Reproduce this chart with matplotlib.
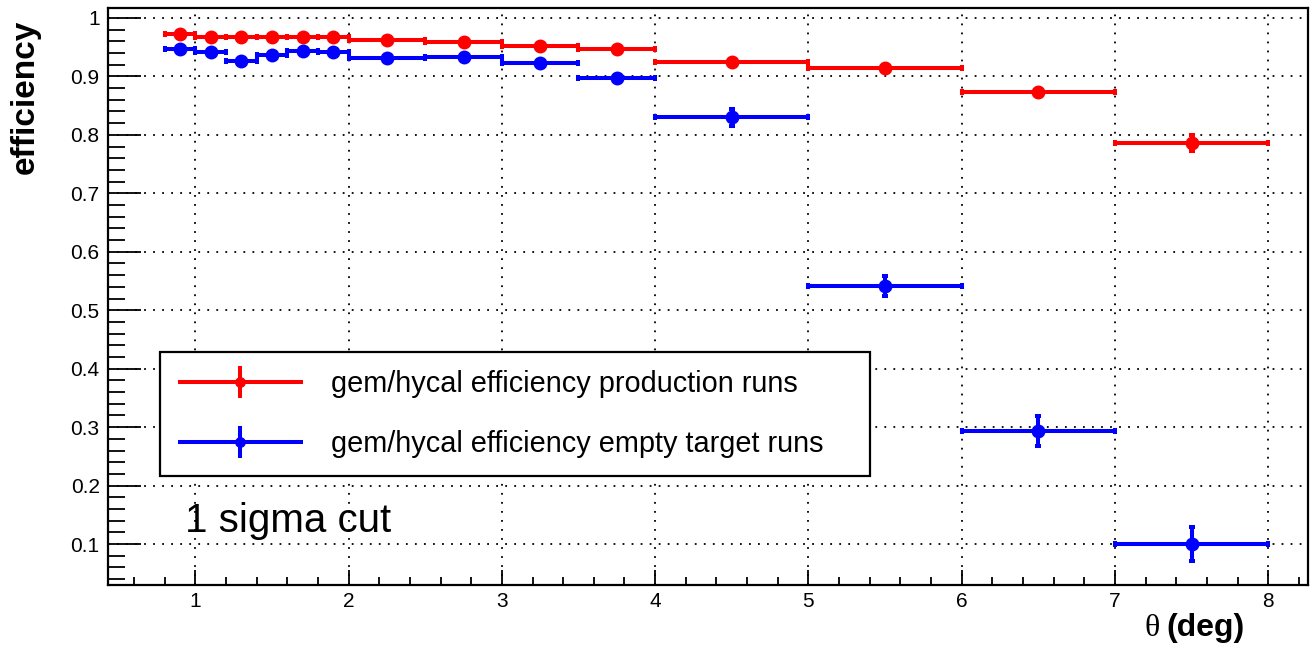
import matplotlib
matplotlib.use("Agg")
import matplotlib.pyplot as plt
import numpy as np
from matplotlib.legend_handler import HandlerErrorbar

plt.rcParams['font.family'] = ['Liberation Sans', 'DejaVu Sans']

# ---- data ----
bin_edges = [0.8, 1.0, 1.2, 1.4, 1.6, 1.8, 2.0, 2.5, 3.0, 3.5, 4.0, 5.0, 6.0, 7.0, 8.0]
prod_eff = [0.973, 0.967, 0.968, 0.968, 0.968, 0.967, 0.963, 0.958, 0.952, 0.947,
            0.924, 0.914, 0.873, 0.786]
prod_err = [0.003, 0.003, 0.003, 0.003, 0.003, 0.003, 0.003, 0.003, 0.003, 0.003,
            0.004, 0.004, 0.006, 0.013]
empty_eff = [0.947, 0.941, 0.927, 0.937, 0.943, 0.941, 0.932, 0.933, 0.923, 0.898,
             0.830, 0.541, 0.293, 0.100]
empty_err = [0.004, 0.004, 0.004, 0.004, 0.004, 0.004, 0.004, 0.004, 0.004, 0.005,
             0.015, 0.017, 0.026, 0.029]
prod_label = "gem/hycal efficiency production runs"
empty_label = "gem/hycal efficiency empty target runs"
x_ticks = [1, 2, 3, 4, 5, 6, 7, 8]
y_ticks = [0.1, 0.2, 0.3, 0.4, 0.5, 0.6, 0.7, 0.8, 0.9, 1.0]
y_tick_labels = ["0.1", "0.2", "0.3", "0.4", "0.5", "0.6", "0.7", "0.8", "0.9", "1"]

edges = np.array(bin_edges)
centers = 0.5 * (edges[:-1] + edges[1:])
halfw = 0.5 * (edges[1:] - edges[:-1])

W, H = 1310, 645
fig = plt.figure(figsize=(W / 100, H / 100), dpi=100)
ax = fig.add_axes([108 / W, 1 - 585 / H, 1200 / W, 577 / H])

lw = 2.9
for vals, errs, col in [(prod_eff, prod_err, '#ff0000'), (empty_eff, empty_err, '#0000ff')]:
    ax.errorbar(centers, vals, xerr=halfw, yerr=errs, fmt='o', color=col, ms=9,
                elinewidth=lw, capsize=2.2, capthick=lw, zorder=3)

# legend proxies (no caps)
h1 = ax.errorbar([], [], xerr=[], yerr=[], fmt='o', color='#ff0000', ms=9,
                 elinewidth=lw, capsize=0, label=prod_label)
h2 = ax.errorbar([], [], xerr=[], yerr=[], fmt='o', color='#0000ff', ms=9,
                 elinewidth=lw, capsize=0, label=empty_label)

ax.set_xlim(0.43, 8.26)
ax.set_ylim(0.03, 1.017)

ax.set_xticks(x_ticks)
ax.set_xticklabels([str(t) for t in x_ticks])
ax.set_xticks(np.arange(0.6, 8.21, 0.2), minor=True)
ax.set_yticks(y_ticks)
ax.set_yticklabels(y_tick_labels)
ax.set_yticks(np.arange(0.04, 1.011, 0.02), minor=True)

ax.tick_params(axis='x', which='major', direction='in', length=11, width=1.3,
               labelsize=15, pad=5, top=False)
ax.tick_params(axis='x', which='minor', direction='in', length=5.8, width=1.3, top=False)
ax.tick_params(axis='y', which='major', direction='in', length=24, width=1.3,
               labelsize=15, pad=6, right=False)
ax.tick_params(axis='y', which='minor', direction='in', length=12, width=1.3, right=False)

for s in ax.spines.values():
    s.set_linewidth(1.6)

ax.grid(True, which='major', color='black', linestyle=(0, (1, 4)), linewidth=1.3, zorder=1)
ax.set_axisbelow(True)

ax.text(0.935, 0.121, "1 sigma cut", fontsize=29, ha='left', va='baseline', zorder=4)

fs_leg = 20.8
fs_px = fs_leg * 100 / 72
leg = ax.legend(handles=[h1, h2], loc='upper left',
                bbox_to_anchor=((160 - 108) / 1200, (585 - 358) / 577, (870 - 160) / 1200, 0.01),
                mode='expand', fontsize=fs_leg, frameon=True, fancybox=False,
                edgecolor='black', framealpha=1, borderpad=0.62, labelspacing=1.1,
                handlelength=125 / fs_px, handletextpad=28 / fs_px, markerscale=0.75,
                borderaxespad=0,
                handler_map={type(h1): HandlerErrorbar(xerr_size=62.5 / fs_px,
                                                        yerr_size=16 / fs_px)})
leg.get_frame().set_linewidth(1.6)

fig.text(25 / W, 1 - 20 / H, "efficiency", rotation=90, ha='center', va='top',
         fontsize=24, fontweight='bold')

t_deg = fig.text(1245 / W, 1 - 628 / H, "(deg)", ha='right', va='center',
                 fontsize=23, fontweight='bold')
fig.canvas.draw()
bb = t_deg.get_window_extent()
fig.text((bb.x0 - 7) / W, 1 - 628 / H, "θ", ha='right', va='center',
         fontsize=23, family=['Liberation Serif', 'DejaVu Serif'])

fig.savefig("out.png", dpi=100)
